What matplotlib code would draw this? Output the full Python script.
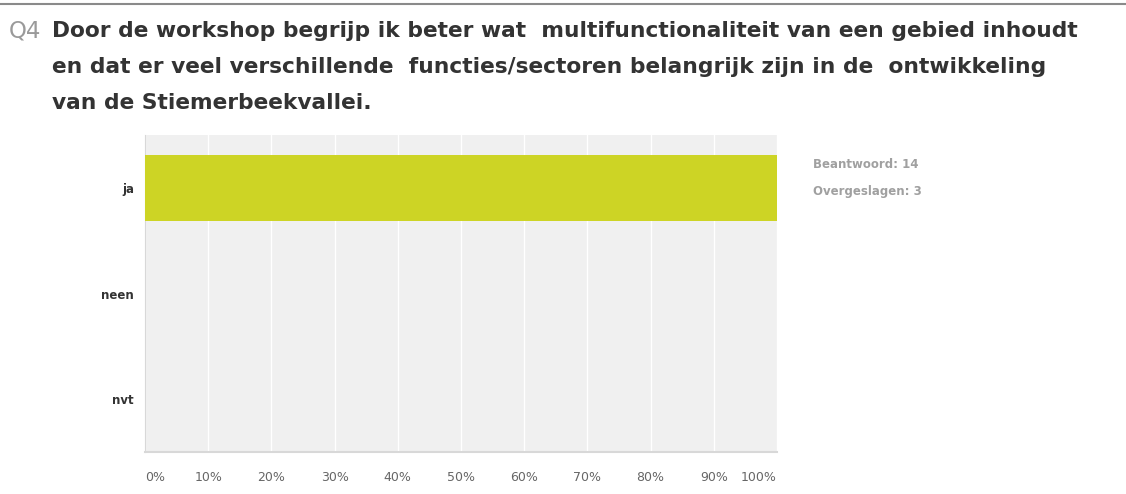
import numpy as np
import matplotlib.pyplot as plt
from matplotlib.lines import Line2D

plt.rcParams['font.family'] = ['DejaVu Sans']

categories = ['ja', 'neen', 'nvt']
percentages = [100, 0, 0]
tick_values = [0, 10, 20, 30, 40, 50, 60, 70, 80, 90, 100]
tick_labels = ['0%', '10%', '20%', '30%', '40%', '50%', '60%', '70%', '80%', '90%', '100%']
answered = 14
skipped = 3

title_q = 'Q4'
title_lines = ['Door de workshop begrijp ik beter wat  multifunctionaliteit van een gebied inhoudt',
               'en dat er veel verschillende  functies/sectoren belangrijk zijn in de  ontwikkeling',
               'van de Stiemerbeekvallei.']

W, H = 1126, 494
fig = plt.figure(figsize=(W / 100, H / 100), dpi=100)

# bovenrand
fig.add_artist(Line2D([0, 1], [1 - 4 / H, 1 - 4 / H], color='#8a8a8a', linewidth=1.5))

# titel
fig.text(9 / W, 1 - 31 / H, title_q, fontsize=16.5, color='#9a9a9a', va='center', ha='left')
for i, line in enumerate(title_lines):
    fig.text(52 / W, 1 - (31 + 36 * i) / H, line, fontsize=15.65, fontweight='bold',
             color='#333333', va='center', ha='left')

# plotgebied
left, right, top, bottom = 145, 777, 135, 452
ax = fig.add_axes([left / W, 1 - bottom / H, (right - left) / W, (bottom - top) / H])
ax.set_facecolor('#f0f0f0')
y = np.arange(len(categories))
ax.barh(y, percentages, height=0.63, color='#cdd425', zorder=3)
ax.set_xlim(0, 100)
ax.set_ylim(len(categories) - 0.5, -0.5)
ax.set_xticks(tick_values)
ax.set_xticklabels(tick_labels)
for i, lab in enumerate(ax.get_xticklabels()):
    if i == 0:
        lab.set_ha('left')
    elif i == len(tick_values) - 1:
        lab.set_ha('right')
ax.tick_params(axis='x', length=0, pad=14, labelsize=9, labelcolor='#666666')
ax.set_yticks(y)
ax.set_yticklabels(categories, fontweight='bold', color='#333333', fontsize=8.5)
ax.tick_params(axis='y', length=0, pad=8)
ax.grid(axis='x', color='white', linewidth=1.0, zorder=1)
ax.set_axisbelow(True)
for side in ['top', 'right']:
    ax.spines[side].set_visible(False)
ax.spines['left'].set_color('#d8d8d8')
ax.spines['bottom'].set_color('#d8d8d8')
ax.spines['bottom'].set_linewidth(1.5)

# samenvatting
fig.text(813 / W, 1 - 165 / H, 'Beantwoord: %d' % answered, fontsize=8.5, fontweight='bold',
         color='#a0a0a0', va='center', ha='left')
fig.text(813 / W, 1 - 191 / H, 'Overgeslagen: %d' % skipped, fontsize=8.5, fontweight='bold',
         color='#a0a0a0', va='center', ha='left')

fig.savefig('out.png', dpi=100, facecolor='white')
